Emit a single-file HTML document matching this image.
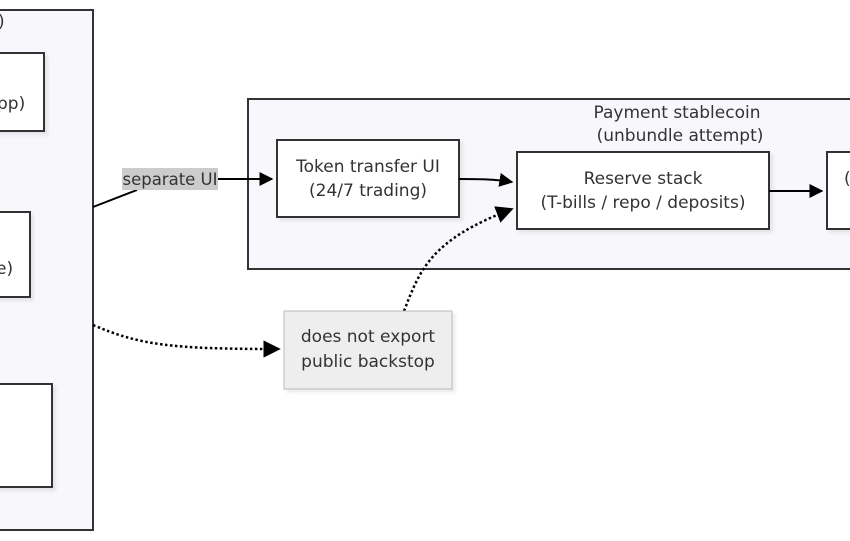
<!DOCTYPE html>
<html><head><meta charset="utf-8"><style>
html,body{margin:0;padding:0;background:#fff;width:850px;height:541px;overflow:hidden}
</style></head><body>
<svg width="850" height="541" viewBox="0 0 850 541" xmlns="http://www.w3.org/2000/svg">
<defs>
<marker id="a" viewBox="0 0 10 10" refX="9" refY="5" markerWidth="7" markerHeight="7" orient="auto"><path d="M0,0L10,5L0,10z" fill="#000"/></marker>
<filter id="s" x="-5%" y="-5%" width="115%" height="120%"><feDropShadow dx="3" dy="3" stdDeviation="1.5" flood-color="#000" flood-opacity="0.08"/></filter>
</defs>
<rect x="-20" y="10" width="113" height="520" fill="#f8f8fc" stroke="#333" stroke-width="2"/>
<rect x="-20" y="53" width="64" height="78" fill="#fff" stroke="#333" stroke-width="2" filter="url(#s)"/>
<rect x="-20" y="212" width="50" height="85" fill="#fff" stroke="#333" stroke-width="2" filter="url(#s)"/>
<rect x="-20" y="384" width="72" height="103" fill="#fff" stroke="#333" stroke-width="2" filter="url(#s)"/>
<rect x="248" y="99" width="620" height="170" fill="#f8f8fc" stroke="#333" stroke-width="2"/>
<rect x="277" y="140" width="182" height="77" fill="#fff" stroke="#333" stroke-width="2" filter="url(#s)"/>
<rect x="517" y="152" width="252" height="77" fill="#fff" stroke="#333" stroke-width="2" filter="url(#s)"/>
<rect x="827" y="152" width="40" height="77" fill="#fff" stroke="#333" stroke-width="2" filter="url(#s)"/>

<path d="M769,191L822,191" stroke="#000" stroke-width="2" fill="none" marker-end="url(#a)"/>
<path d="M459,179C490,179 500,180 512,182" stroke="#000" stroke-width="2" fill="none" marker-end="url(#a)"/>
<path d="M93,207L137,190" stroke="#000" stroke-width="2" fill="none"/>
<rect x="122" y="168" width="96" height="22" fill="#ccc"/>
<path d="M218,179L272,179" stroke="#000" stroke-width="2" fill="none" marker-end="url(#a)"/>
<path d="M93,325C140,345 170,349 279,349" stroke="#000" stroke-width="2.5" stroke-dasharray="2.5,2.5" fill="none" marker-end="url(#a)"/>
<path d="M404,311C420,270 430,240 512,209" stroke="#000" stroke-width="2.5" stroke-dasharray="2.5,2.5" fill="none" marker-end="url(#a)"/>
<rect x="284" y="311" width="168" height="78" fill="#eee" stroke="#bbb" stroke-width="1" filter="url(#s)"/>

<g font-family="DejaVu Sans, Liberation Sans, sans-serif" font-size="17" fill="#333" style="font-size:17px">
<text x="-2" y="27">)</text>
<text x="-3" y="109">pp)</text>
<text x="-4" y="274">e)</text>
<text x="677" y="118" text-anchor="middle">Payment stablecoin</text>
<text x="680" y="141" text-anchor="middle">(unbundle attempt)</text>
<text x="368" y="172" text-anchor="middle">Token transfer UI</text>
<text x="368" y="196" text-anchor="middle">(24/7 trading)</text>
<text x="643" y="184" text-anchor="middle">Reserve stack</text>
<text x="643" y="208" text-anchor="middle">(T-bills / repo / deposits)</text>
<text x="844" y="184">(</text>
<text x="170" y="185" text-anchor="middle" style="font-size:16.5px">separate UI</text>
<text x="368" y="342" text-anchor="middle">does not export</text>
<text x="368" y="367" text-anchor="middle">public backstop</text>
</g>
</svg>
</body></html>
